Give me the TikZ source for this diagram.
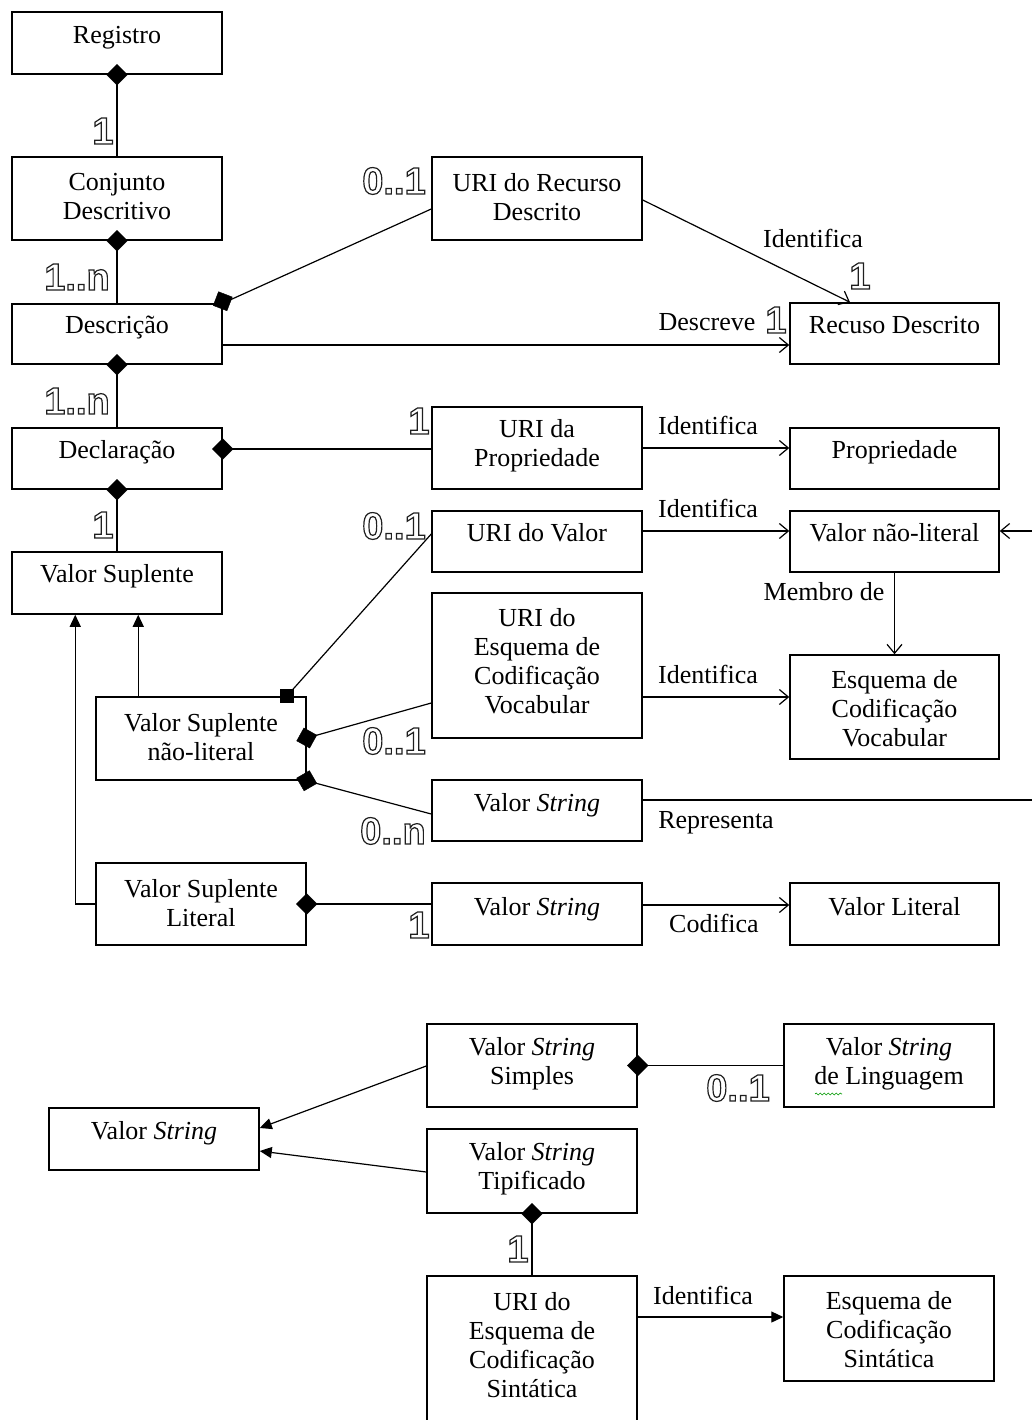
\documentclass[tikz,border=0pt]{standalone}
\usepackage{fontspec}
\setmainfont{Liberation Serif}
\newfontfamily\multfont{Liberation Sans}
\usetikzlibrary{arrows.meta,shapes.geometric,decorations.pathmorphing}

% hollow (stroked) glyphs for the multiplicities
\newcommand{\hollow}[1]{\special{pdf:code 1 Tr 1.2 w}#1\special{pdf:code 0 Tr}}

\tikzset{
  box/.style={draw, line width=1.5pt, minimum width=210pt, inner sep=0pt},
  txt/.style={align=center, font=\fontsize{26}{29}\selectfont, inner sep=0pt,
              text height=17pt, text depth=6pt},
  txtm/.style={align=center, font=\fontsize{26}{29}\selectfont, inner sep=0pt},
  lnk/.style={line width=1.2pt},
  openarr/.style={lnk, -{Straight Barb[length=9pt,width=15pt,line width=1.2pt]}},
  fillarr/.style={lnk, -{Triangle[length=12pt,width=11pt]}},
  dia/.style={diamond, fill=black, draw=black, minimum width=21pt,
              minimum height=21pt, inner sep=0pt},
  sq/.style={rectangle, fill=black, minimum size=14pt, inner sep=0pt},
  mult/.style={font=\multfont\bfseries\fontsize{38}{38}\selectfont,
               text=black!88, inner sep=0pt},
}

\begin{document}
\begin{tikzpicture}[x=1pt,y=-1pt]
\useasboundingbox (0,0) rectangle (1031,1420);

% ---------- boxes ----------
\node[box, minimum height=62pt] (reg)     at (117,43)    {};
\node[box, minimum height=83pt] (conj)    at (117,198.5) {};
\node[box, minimum height=60pt] (desc)    at (117,334)   {};
\node[box, minimum height=61pt] (decl)    at (117,458.5) {};
\node[box, minimum height=62pt] (vsup)    at (117,583)   {};
\node[box, minimum height=83pt] (urirec)  at (537,198.5) {};
\node[box, minimum height=61pt, minimum width=209pt] (recdesc) at (894.5,333.5) {};
\node[box, minimum height=82pt] (uriprop) at (537,448)   {};
\node[box, minimum height=61pt, minimum width=209pt] (prop)    at (894.5,458.5) {};
\node[box, minimum height=61pt] (urival)  at (537,541.5) {};
\node[box, minimum height=61pt, minimum width=209pt] (vnl)     at (894.5,541.5) {};
\node[box, minimum height=145pt] (urivoc) at (537,665.5) {};
\node[box, minimum height=104pt, minimum width=209pt] (esqvoc) at (894.5,707) {};
\node[box, minimum height=83pt] (vsnl)    at (201,738.5) {};
\node[box, minimum height=61pt] (vstra)   at (537,810.5) {};
\node[box, minimum height=82pt] (vsl)     at (201,904)   {};
\node[box, minimum height=62pt] (vstrb)   at (537,914)   {};
\node[box, minimum height=62pt, minimum width=209pt] (vlit)    at (894.5,914) {};
\node[box, minimum height=83pt] (vss)     at (532,1065.5) {};
\node[box, minimum height=83pt] (vsling)  at (889,1065.5) {};
\node[box, minimum height=62pt] (vstrc)   at (154,1139)  {};
\node[box, minimum height=84pt] (vst)     at (532,1171)  {};
\node[box, minimum height=164pt] (urisin) at (532,1358)  {};
\node[box, minimum height=105pt] (esqsin) at (889,1328.5) {};

% ---------- box texts ----------
\node[txt]  (t-reg)     at (117,38)     {Registro};
\node[txtm] (t-conj)    at (117,197)    {Conjunto\\Descritivo};
\node[txt]  (t-desc)    at (117,328)    {Descrição};
\node[txt]  (t-decl)    at (117,453)    {Declaração};
\node[txt]  (t-vsup)    at (117,577)    {Valor Suplente};
\node[txtm] (t-urirec)  at (537,197)    {URI do Recurso\\Descrito};
\node[txt]  (t-recdesc) at (894.5,328)  {Recuso Descrito};
\node[txtm] (t-uriprop) at (537,446)    {URI da\\Propriedade};
\node[txt]  (t-prop)    at (894.5,453)  {Propriedade};
\node[txt]  (t-urival)  at (537,536)    {URI do Valor};
\node[txt]  (t-vnl)     at (894.5,536)  {Valor não-literal};
\node[txtm] (t-urivoc)  at (537,661)    {URI do\\Esquema de\\Codificação\\Vocabular};
\node[txtm] (t-esqvoc)  at (894.5,709)  {Esquema de\\Codificação\\Vocabular};
\node[txtm] (t-vsnl)    at (201,737)    {Valor Suplente\\não-literal};
\node[txt]  (t-vstra)   at (537,806)    {Valor \textit{String}};
\node[txtm] (t-vsl)     at (201,903)    {Valor Suplente\\Literal};
\node[txt]  (t-vstrb)   at (537,910)    {Valor \textit{String}};
\node[txt]  (t-vlit)    at (894.5,910)  {Valor Literal};
\node[txtm] (t-vss)     at (532,1064)   {Valor \textit{String}\\Simples};
\node[txtm] (t-vsling)  at (889,1064)   {Valor \textit{String}\\de Linguagem};
\node[txt]  (t-vstrc)   at (154,1134)   {Valor \textit{String}};
\node[txtm] (t-vst)     at (532,1169)   {Valor \textit{String}\\Tipificado};
\node[txtm] (t-urisin)  at (532,1345)   {URI do\\Esquema de\\Codificação\\Sintática};
\node[txtm] (t-esqsin)  at (889,1330)   {Esquema de\\Codificação\\Sintática};

% spell-check squiggle under "de"
\draw[green!60!black, line width=0.6pt, decorate,
      decoration={snake, amplitude=1pt, segment length=4pt}] (815,1094) -- (842,1094);

% ---------- connector end points ----------
\coordinate (descR)   at ([yshift=-11pt]desc.east);
\coordinate (declR)   at ([yshift=9.5pt]decl.east);
\coordinate (urivalR) at ([yshift=10.5pt]urival.east);
\coordinate (urivocR) at ([yshift=-31.5pt]urivoc.east);
\coordinate (vstraR)  at ([yshift=10.5pt]vstra.east);
\coordinate (vstrbR)  at ([yshift=9pt]vstrb.east);
\coordinate (vsnlTop) at ([xshift=43pt]vsnl.north west);
\coordinate (vsupL)   at ([xshift=64pt]vsup.south west);
\coordinate (urisinR) at ([yshift=41pt]urisin.east);
\coordinate (edgeA)   at (1040,531);
\coordinate (edgeB)   at (1040,800);

% ---------- connectors ----------
\draw[lnk] (reg.south) -- (conj.north);
\draw[lnk] (conj.south) -- (desc.north);
\draw[lnk] (desc.north east) -- ([yshift=-10.5pt]urirec.west);
\draw[openarr] ([yshift=-1.5pt]urirec.east) -- ([xshift=-44.5pt]recdesc.north);
\draw[openarr] (descR) -- (descR -| recdesc.west);
\draw[lnk] (desc.south) -- (decl.north);
\draw[lnk] (declR) -- (declR -| uriprop.west);
\draw[openarr] (uriprop.east) -- (uriprop.east -| prop.west);
\draw[lnk] (decl.south) -- (vsup.north);
\draw[openarr] (urivalR) -- (urivalR -| vnl.west);
\draw[openarr] (edgeA) -- (edgeA -| vnl.east);
\draw[openarr] (vnl.south) -- (esqvoc.north);
\draw[openarr] (urivocR) -- (urivocR -| esqvoc.west);
\draw[lnk] ([xshift=-20pt]vsnl.north east) -- ([yshift=7.5pt]urival.west);
\draw[lnk] ([yshift=0.5pt]vsnl.east) -- ([yshift=-37.5pt]urivoc.west);
\draw[lnk] (vsnl.south east) -- ([yshift=-3.5pt]vstra.west);
\draw[lnk] (vstraR) -- (edgeB);
\draw[lnk] (vsl.east) -- (vsl.east -| vstrb.west);
\draw[openarr] (vstrbR) -- (vstrbR -| vlit.west);
\draw[fillarr] (vsnlTop) -- (vsnlTop |- vsup.south);
\draw[fillarr] (vsl.west) -| (vsupL);
\draw[fillarr] ([yshift=-0.5pt]vss.west) -- ([yshift=11pt]vstrc.east);
\draw[fillarr] ([yshift=-1pt]vst.west) -- ([yshift=-12pt]vstrc.east);
\draw[lnk] (vss.east) -- (vsling.west);
\draw[lnk] (vst.south) -- (urisin.north);
\draw[fillarr] (urisinR) -- (urisinR -| esqsin.west);

% ---------- aggregation diamonds and the square end ----------
\node[dia] (d-reg)  at (reg.south) {};
\node[dia] (d-conj) at (conj.south) {};
\node[dia, rotate=24] (d-desc) at ([yshift=2pt]desc.north east) {};
\node[dia] (d-desc2) at (desc.south) {};
\node[dia] (d-decl) at (declR) {};
\node[dia] (d-decl2) at (decl.south) {};
\node[dia, rotate=16] (d-vsnl) at ([yshift=0.5pt]vsnl.east) {};
\node[dia, rotate=-15] (d-vsnl2) at (vsnl.south east) {};
\node[dia] (d-vsl) at (vsl.east) {};
\node[dia] (d-vss) at (vss.east) {};
\node[dia] (d-vst) at (vst.south) {};
\node[sq] (s-vsnl) at ([xshift=-20pt]vsnl.north east) {};

% ---------- relation names ----------
\node[txt] (r-id1)  at (813,242)  {Identifica};
\node[txt] (r-desc) at (707,325)  {Descreve};
\node[txt] (r-id2)  at (708,429)  {Identifica};
\node[txt] (r-id3)  at (708,512)  {Identifica};
\node[txt] (r-memb) at (824,595)  {Membro de};
\node[txt] (r-id4)  at (708,678)  {Identifica};
\node[txt] (r-rep)  at (716,823)  {Representa};
\node[txt] (r-cod)  at (714,927)  {Codifica};
\node[txt] (r-id5)  at (703,1299) {Identifica};

% ---------- multiplicities ----------
\node[mult] (m1)  at (103,131)  {\hollow{1}};
\node[mult] (m2)  at (77,277)   {\hollow{1..n}};
\node[mult] (m3)  at (394,181)  {\hollow{0..1}};
\node[mult] (m4)  at (860,276)  {\hollow{1}};
\node[mult] (m5)  at (776,320)  {\hollow{1}};
\node[mult] (m6)  at (77,401)   {\hollow{1..n}};
\node[mult] (m7)  at (419,421)  {\hollow{1}};
\node[mult] (m8)  at (103,525)  {\hollow{1}};
\node[mult] (m9)  at (394,526)  {\hollow{0..1}};
\node[mult] (m10) at (394,741)  {\hollow{0..1}};
\node[mult] (m11) at (393,831)  {\hollow{0..n}};
\node[mult] (m12) at (419,925)  {\hollow{1}};
\node[mult] (m13) at (738,1088) {\hollow{0..1}};
\node[mult] (m14) at (518,1249) {\hollow{1}};
\end{tikzpicture}
\end{document}
